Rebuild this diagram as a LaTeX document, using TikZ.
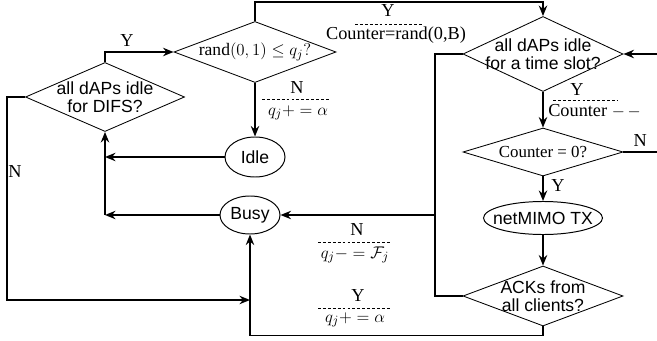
\documentclass[tikz,border=0pt]{standalone}
\usepackage{amsmath}
\usepackage{fontspec}
\setmainfont{Liberation Serif}
\setsansfont{Liberation Sans}
\usepackage{tikz}
\usetikzlibrary{arrows.meta}
\usetikzlibrary{shapes,calc}
\tikzstyle{decision} = [diamond, draw, line width=0.6pt, inner sep=-4pt, align=center, font=\sffamily\fontsize{12.5}{13}\selectfont]
\tikzstyle{oval} = [ellipse, draw, line width=0.7pt, inner sep=1pt, font=\sffamily\fontsize{12.5}{13}\selectfont]
\tikzstyle{conn} = [line width=1.3pt, >={Stealth[length=7.5pt,width=6pt,inset=2.5pt]}]
\tikzstyle{lbl} = [inner sep=0pt, font=\fontsize{13}{14}\selectfont]
\tikzstyle{rulebar} = [line width=0.5pt, dash pattern=on 2pt off 1.5pt]

\begin{document}
\begin{tikzpicture}[x=0.025cm, y=-0.025cm]
\useasboundingbox (0,0) rectangle (657,341);

    \node[decision, aspect=2.3, minimum width=3.975cm, minimum height=1.725cm] (difs) at (105,97) {all dAPs idle\\for DIFS?};
    \node[decision, aspect=2.66, minimum width=4.05cm, minimum height=1.525cm] (rnd) at (255,52) {$\mathrm{rand}(0,1)\leq q_j?$};
    \node[decision, aspect=2.13, minimum width=4cm, minimum height=1.875cm] (slot) at (543,54) {all dAPs idle\\for a time slot?};
    \node[decision, aspect=3.33, minimum width=4cm, minimum height=1.2cm, font=\fontsize{12}{13}\selectfont] (zero) at (543,152) {Counter = 0?};
    \node[decision, aspect=2.67, minimum width=4cm, minimum height=1.5cm] (acks) at (543,296) {ACKs from\\all clients?};

	\node[oval, minimum width=1.5cm, minimum height=1cm] (idle) at (255,157) {Idle};
	\node[oval, minimum width=1.5cm, minimum height=0.95cm] (busy) at (250,215) {Busy};
	\node[oval, inner xsep=-5.5pt, inner ysep=0pt, minimum height=0.825cm] (tx) at (543,218) {netMIMO TX};

	\coordinate (split) at (busy.east -| 435,0);
	\coordinate (nlow) at (7,300);
	\coordinate (rimtop) at (slot.east -| 657,0);
	\coordinate (rimlow) at (zero.east -| 657,0);

    \draw[conn,->] (difs.north) |- (rnd.west) node[lbl, pos=0.66, above=3pt] (yDifs) {Y};
    \draw[conn,->] (rnd.north) -- (rnd.north |- 0,2) -| (slot.north);
    \node[lbl] (yRand) at (388,11) {Y};
    \draw[rulebar] (355,24) -- (422,24);
    \node[lbl] (cntRand) at (396,35) {Counter=rand(0,B)};

    \draw[conn,->] (rnd.south) -- (idle.north);
    \node[lbl] (nRand) at (297,88) {N};
    \draw[rulebar] (262,99) -- (330,99);
    \node[lbl] (incIdle) at (298,113) {$q_j+=\alpha$};

    \draw[conn,->] (idle.west) -- (idle.west -| difs.south);
    \draw[conn,->] (busy.west) -- (busy.west -| difs.south);
    \draw[conn,->] (busy.west -| difs.south) -- (difs.south);

    \draw[conn,->] (difs.west) -| (nlow) -- (nlow -| busy.south);
    \node[lbl] (nDifs) at (15,172) {N};

    \draw[conn] (slot.west) -| (split);
    \draw[conn] (acks.west) -| (split);
    \draw[conn,->] (split) -- (busy.east);
    \node[lbl] (nAck) at (357,230) {N};
    \draw[rulebar] (318,242) -- (390,242);
    \node[lbl] (decBusy) at (355,255) {$q_j-=\mathcal{F}_j$};
    \node[lbl] (yAck) at (358,296) {Y};
    \draw[rulebar] (318,308) -- (390,308);
    \node[lbl] (incBusy) at (355,320) {$q_j+=\alpha$};
    \draw[conn,->] (acks.south) -- ++(0,9) -| (busy.south);

    \draw[conn,->] (rimtop) -- (slot.east);
    \draw[conn,->] (slot.south) -- (zero.north);
    \node[lbl] (ySlot) at (577,90) {Y};
    \draw[rulebar] (553,100) -- (618,100);
    \node[lbl, anchor=west] (cntDec) at (548,111) {Counter $-\,-$};

    \draw[conn] (zero.east) -- (rimlow) node[lbl, midway, above=3pt] (nZero) {N};
    \draw[conn,->] (zero.south) -- (tx.north);
    \node[lbl] (yZero) at (558,186) {Y};
    \draw[conn,->] (tx.south) -- (acks.north);
\end{tikzpicture}
\end{document}
